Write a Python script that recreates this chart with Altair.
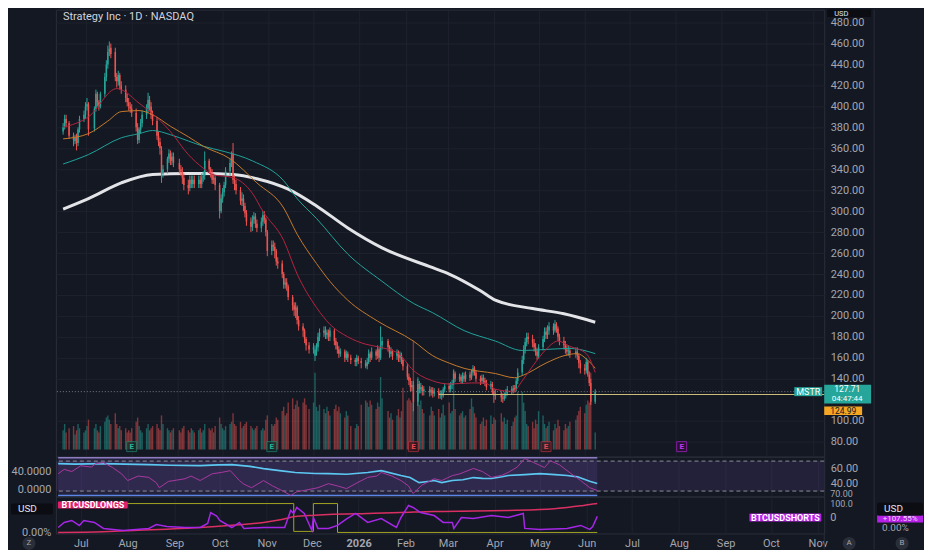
import altair as alt
import pandas as pd

BG = "#141823"
GRID = "#1e222d"
BORDER = "#2a2e39"
LABEL = "#a3a6af"
UP = "#26a69a"
DOWN = "#ef5350"
FONT = "Roboto"

W = 770
H_MAIN, H_RSI, H_LOW = 448, 40, 37

# ---------------- data ----------------
HOLIDAYS = ["2025-06-19", "2025-07-04", "2025-09-01", "2025-11-27", "2025-12-25",
            "2026-01-01", "2026-01-19", "2026-02-16", "2026-04-03", "2026-05-25"]
DATES = [d.strftime("%Y-%m-%d") for d in pd.bdate_range("2025-06-16", "2026-06-08")
         if d.strftime("%Y-%m-%d") not in HOLIDAYS]

OPEN = [376, 381, 388, 384, 372, 367, 371, 365, 378, 388,
        392, 400, 402, 379, 398, 412, 404, 400, 412, 428,
        440, 452, 456, 452, 428, 424, 430, 420, 416, 408,
        404, 400, 398, 394, 380, 368, 378, 384, 392, 398,
        406, 400, 392, 386, 372, 366, 358, 336, 340, 350,
        355, 348, 352, 346, 340, 338, 332, 325, 322, 330,
        326, 330, 326, 330, 326, 332, 334, 348, 340, 336,
        330, 332, 325, 300, 312, 318, 325, 338, 346, 355,
        330, 326, 320, 310, 312, 305, 298, 290, 285, 292,
        295, 288, 284, 290, 296, 292, 280, 262, 268, 266,
        262, 252, 250, 240, 230, 232, 228, 218, 210, 206,
        208, 196, 190, 186, 178, 172, 168, 162, 168, 170,
        180, 184, 186, 182, 184, 180, 186, 176, 172, 168,
        164, 166, 160, 164, 160, 158, 156, 160, 157, 155,
        152, 156, 164, 160, 166, 162, 168, 160, 172, 176,
        170, 164, 166, 162, 165, 160, 163, 158, 152, 142,
        138, 132, 134, 118, 135, 130, 132, 128, 130, 127,
        129, 126, 128, 125, 126, 124, 130, 133, 130, 134,
        136, 145, 140, 142, 138, 143, 140, 144, 141, 146,
        150, 146, 140, 138, 141, 138, 136, 132, 135, 128,
        124, 126, 122, 121, 124, 126, 130, 128, 131, 130,
        138, 146, 158, 168, 175, 180, 178, 174, 170, 166,
        162, 170, 178, 185, 182, 186, 190, 186, 192, 188,
        180, 176, 172, 168, 166, 167, 164, 166, 162, 155,
        150, 148, 156, 144, 136, 118]
HIGH = [384, 392, 392, 386, 375, 373, 374, 380, 391, 396,
        404, 408, 404, 400, 416, 414, 406, 414, 432, 444,
        458, 462, 460, 456, 432, 434, 432, 424, 420, 412,
        408, 404, 402, 398, 384, 380, 388, 396, 402, 413,
        410, 404, 396, 390, 376, 370, 362, 344, 352, 359,
        358, 356, 356, 350, 344, 342, 336, 330, 334, 334,
        334, 334, 334, 334, 336, 338, 357, 350, 342, 340,
        336, 334, 327, 316, 322, 328, 342, 350, 357, 365,
        334, 330, 323, 318, 316, 308, 301, 294, 296, 299,
        298, 292, 294, 300, 300, 294, 282, 272, 272, 270,
        264, 256, 253, 242, 236, 236, 230, 220, 213, 213,
        210, 200, 193, 188, 180, 175, 174, 172, 174, 184,
        188, 190, 190, 187, 187, 189, 188, 179, 175, 171,
        169, 168, 167, 166, 163, 160, 163, 162, 160, 158,
        160, 168, 166, 170, 168, 172, 170, 190, 180, 178,
        172, 170, 168, 168, 167, 166, 165, 160, 155, 145,
        141, 138, 138, 140, 138, 136, 134, 133, 133, 132,
        132, 131, 131, 129, 129, 132, 136, 136, 137, 139,
        149, 147, 145, 144, 146, 146, 147, 147, 149, 153,
        152, 148, 143, 144, 144, 141, 139, 138, 137, 131,
        130, 128, 126, 127, 130, 133, 133, 134, 134, 141,
        150, 162, 172, 179, 184, 184, 182, 178, 174, 169,
        173, 181, 189, 189, 191, 194, 193, 196, 194, 190,
        183, 180, 176, 172, 172, 170, 170, 170, 164, 158,
        154, 160, 158, 147, 140, 130]
LOW = [373, 378, 380, 369, 362, 364, 358, 362, 375, 385,
       388, 396, 372, 376, 395, 400, 396, 398, 409, 424,
       436, 448, 446, 424, 418, 420, 416, 412, 404, 400,
       396, 394, 390, 376, 364, 365, 374, 380, 388, 394,
       396, 388, 382, 368, 362, 354, 327, 332, 336, 346,
       344, 344, 342, 336, 334, 326, 320, 316, 319, 322,
       322, 322, 322, 322, 322, 328, 330, 336, 332, 326,
       326, 320, 293, 298, 308, 314, 322, 334, 342, 326,
       320, 316, 306, 305, 300, 294, 286, 280, 281, 288,
       284, 280, 280, 286, 288, 276, 257, 258, 262, 255,
       248, 245, 236, 226, 226, 224, 215, 205, 200, 198,
       192, 186, 180, 174, 167, 164, 164, 157, 162, 166,
       176, 180, 178, 178, 176, 176, 172, 168, 164, 160,
       161, 156, 158, 156, 154, 152, 152, 154, 150, 150,
       149, 154, 156, 158, 158, 159, 156, 158, 168, 166,
       160, 161, 158, 158, 156, 156, 154, 148, 139, 134,
       128, 128, 109, 114, 126, 126, 124, 124, 123, 124,
       122, 123, 121, 121, 120, 122, 127, 127, 127, 130,
       134, 137, 137, 135, 135, 137, 137, 138, 139, 143,
       143, 137, 134, 135, 135, 133, 129, 130, 125, 117,
       120, 118, 117, 119, 121, 124, 125, 126, 127, 128,
       135, 143, 154, 164, 171, 173, 170, 166, 162, 158,
       159, 167, 175, 178, 178, 182, 182, 184, 184, 176,
       172, 168, 164, 162, 162, 160, 160, 158, 150, 145,
       144, 145, 142, 133, 115, 116]
CLOSE = [380, 388, 384, 372, 368, 370, 365, 378, 388, 392,
         400, 402, 378, 398, 412, 404, 400, 412, 428, 440,
         452, 455, 450, 428, 424, 430, 420, 416, 408, 404,
         400, 398, 394, 380, 368, 378, 384, 392, 398, 406,
         400, 392, 386, 372, 366, 360, 336, 340, 350, 355,
         348, 352, 346, 340, 338, 332, 325, 322, 330, 326,
         330, 326, 330, 326, 332, 334, 348, 340, 336, 330,
         332, 325, 300, 312, 318, 325, 338, 346, 352, 330,
         326, 320, 310, 312, 305, 298, 290, 285, 292, 295,
         288, 284, 290, 296, 292, 280, 262, 268, 266, 262,
         252, 250, 240, 230, 232, 228, 218, 210, 206, 208,
         196, 190, 186, 178, 172, 168, 170, 168, 170, 180,
         184, 186, 182, 184, 180, 186, 176, 172, 168, 164,
         166, 160, 164, 160, 158, 156, 160, 157, 155, 152,
         156, 164, 160, 166, 162, 168, 160, 172, 176, 170,
         164, 166, 162, 165, 160, 163, 158, 152, 142, 138,
         132, 134, 118, 135, 130, 132, 128, 130, 127, 129,
         126, 128, 125, 126, 124, 130, 133, 130, 134, 136,
         145, 140, 142, 138, 143, 140, 144, 141, 146, 150,
         146, 140, 138, 141, 138, 136, 132, 135, 128, 124,
         126, 122, 121, 124, 126, 130, 128, 131, 130, 138,
         146, 158, 168, 175, 180, 178, 174, 170, 166, 162,
         170, 178, 185, 182, 186, 190, 186, 192, 188, 180,
         176, 172, 168, 166, 167, 164, 166, 162, 155, 150,
         148, 156, 144, 136, 118, 127.71]
VOLUME = [9, 12, 8, 10, 11, 7, 9, 12, 10, 8,
          9, 11, 14, 10, 12, 9, 8, 11, 13, 15,
          16, 14, 12, 17, 12, 10, 11, 9, 10, 8,
          9, 8, 10, 13, 15, 11, 9, 8, 10, 12,
          9, 10, 11, 12, 10, 9, 16, 12, 10, 9,
          8, 9, 10, 9, 8, 10, 11, 9, 8, 10,
          9, 8, 9, 10, 8, 9, 12, 10, 9, 10,
          8, 11, 15, 12, 10, 9, 11, 12, 13, 17,
          12, 11, 13, 10, 11, 12, 13, 11, 10, 9,
          10, 11, 9, 10, 9, 14, 16, 12, 11, 12,
          15, 14, 18, 20, 16, 17, 22, 24, 19, 21,
          23, 20, 22, 24, 21, 19, 22, 36, 20, 18,
          21, 19, 17, 20, 18, 16, 19, 21, 18, 20,
          17, 15, 18, 16, 11, 10, 12, 11, 21, 23,
          22, 20, 23, 21, 19, 22, 20, 34, 24, 18,
          15, 17, 14, 16, 19, 15, 18, 29, 23, 24,
          23, 22, 51, 34, 21, 23, 19, 17, 16, 20,
          18, 16, 19, 15, 17, 21, 16, 22, 17, 18,
          37, 19, 16, 17, 18, 15, 16, 19, 24, 20,
          17, 15, 12, 13, 15, 11, 14, 16, 12, 15,
          14, 17, 13, 15, 12, 14, 11, 13, 15, 16,
          27, 27, 22, 18, 12, 11, 13, 10, 14, 12,
          18, 16, 12, 10, 11, 13, 9, 12, 10, 14,
          11, 9, 12, 10, 11, 13, 14, 16, 18, 20,
          17, 21, 23, 22, 36, 8]

# moving averages read at sample bars (bar index, value)
MA200_I = [0, 12, 27, 42, 57, 65, 79, 91, 106, 118, 133, 148, 170, 177, 192, 200, 216, 231, 245]
MA200_V = [302, 312, 327, 335, 336, 336, 335, 331, 321, 305, 284, 265, 246, 240, 224, 215, 207, 202, 194]
MA100_I = [0, 12, 27, 35, 42, 50, 57, 65, 75, 88, 103, 110, 118, 133, 148, 162, 170, 185, 200, 211, 223, 235, 245]
MA100_V = [345, 354, 370, 374, 377, 373, 367, 362, 357, 348, 329, 312, 293, 259, 233, 212, 203, 186, 176, 167, 168, 169, 164]
MA50_I = [0, 12, 20, 27, 35, 42, 50, 57, 65, 77, 91, 103, 110, 118, 125, 133, 145, 162, 170, 177,
          185, 200, 208, 211, 223, 231, 237, 241, 245]
MA50_V = [369, 374, 386, 395, 396, 392, 381, 371, 362, 350, 327, 303, 278, 250, 233, 215, 195, 176, 162, 155,
          150, 145, 141, 143, 155, 162, 164, 159, 150]
MA20_I = [0, 12, 24, 27, 35, 42, 50, 57, 65, 69, 79, 88, 93, 103, 110, 118, 125, 133, 139, 147,
          154, 162, 170, 177, 188, 195, 200, 207, 211, 216, 223, 229, 235, 241, 245]
MA20_V = [380, 390, 417, 416, 403, 393, 376, 354, 341, 335, 332, 317, 300, 272, 240, 208, 192, 180, 173, 170,
          164, 148, 138, 135, 136, 136, 130, 128, 138, 152, 168, 176, 171, 164, 146]

# RSI-type panel
RSI_I = [0, 8, 20, 30, 42, 52, 65, 73, 80, 88, 95, 103, 110, 118, 125, 133, 141, 148, 156, 160,
         164, 168, 171, 174, 179, 184, 189, 193, 197, 201, 205, 212, 220, 226, 232, 236, 239, 242, 245]
RSI_V = [66.7, 66, 66.7, 66, 65.3, 64.5, 64, 65, 65.3, 63, 60, 57, 54.7, 53.5, 53.3, 52.5, 54.7, 57.3, 50.7, 48,
         41.3, 43, 44, 41.3, 44, 45, 48, 47, 46.7, 49, 50.7, 52, 53.3, 52, 50.7, 49, 46.7, 43, 40]
OSC_I = [0, 3, 6, 10, 14, 17, 20, 24, 28, 32, 37, 42, 45, 47, 51, 57, 61, 65, 71, 75,
         79, 83, 86, 89, 95, 99, 103, 107, 111, 114, 120, 125, 129, 133, 137, 141, 145, 148, 152, 156,
         159, 162, 166, 171, 174, 179, 182, 189, 193, 197, 201, 205, 209, 212, 216, 221, 225, 229, 232, 238,
         242, 245]
OSC_V = [35, 45, 40, 53, 50, 58, 60, 49, 35, 20, 30, 27, 15, 4, 18, 24, 30, 20, 35, 38,
         42, 20, 12, 4, 20, 8, -2, -13, -5, -2, 4, 13, 8, 2, 15, 27, 30, 38, 30, 20,
         8, -9, 10, 24, 20, 31, 35, 47, 40, 27, 32, 38, 50, 69, 60, 49, 64, 55, 42, 20,
         4, -2]

# BTC longs / shorts panel
LONG_I = [0, 20, 34, 50, 65, 80, 95, 103, 110, 118, 125, 141, 156, 171, 190, 205, 220, 232, 238, 242, 245]
LONG_V = [0, 5, 13, 22, 33, 48, 67, 87, 107, 115, 120, 127, 133, 140, 143, 147, 153, 167, 178, 187, 193]
SHORT_I = [0, 3, 6, 9, 12, 16, 20, 29, 42, 45, 50, 57, 65, 68, 70, 72, 74, 80, 83, 86,
           95, 105, 107, 109, 111, 114, 116, 117, 120, 125, 129, 133, 136, 141, 148, 153, 156, 159, 162, 165,
           171, 175, 179, 180, 183, 189, 197, 205, 211, 212, 220, 232, 238, 242, 244, 245]
SHORT_V = [33, 67, 80, 47, 80, 67, 27, 13, 27, 53, 40, 33, 33, 60, 133, 110, 80, 33, 67, 27,
           33, 33, 147, 127, 167, 127, 13, 100, 27, 27, 47, 90, 127, 67, 93, 33, 100, 180, 167, 133,
           113, 67, 67, 27, 100, 93, 113, 100, 127, 27, 20, 27, 47, 20, 40, 107]
STEP_I = [0, 109, 117, 129, 245]
STEP_V = [193, 7, 193, 0, 0]

EARN_DATES = ["2025-08-01", "2025-11-03", "2026-02-06", "2026-05-06", "2026-08-05"]
EARN_KIND = ["beat", "beat", "miss", "miss", "next"]

# price-axis tick labels (120.00 is hidden behind the price labels)
PRICE_TICKS = [80, 100, 140, 160, 180, 200, 220, 240, 260, 280, 300, 320, 340, 360, 380, 400, 420, 440, 460, 480]

LAST = 127.71
PREV = 124.99
LINE_START = "2026-02-23"

# ---------------- frames ----------------
n = min(len(DATES), len(OPEN), len(HIGH), len(LOW), len(CLOSE), len(VOLUME))
bars = pd.DataFrame({"date": DATES[:n], "open": OPEN[:n], "high": HIGH[:n], "low": LOW[:n],
                     "close": CLOSE[:n], "volume": VOLUME[:n]})


def series(idx, vals):
    return pd.DataFrame({"date": [DATES[min(i, n - 1)] for i in idx], "v": vals})


ONE = pd.DataFrame({"k": [0]})
span = pd.DataFrame({"a": [DATES[0]], "b": [DATES[n - 1]]})
earn = pd.DataFrame({"date": EARN_DATES, "kind": EARN_KIND})
line_start = pd.DataFrame({"a": [LINE_START]})

# ---------------- scales / axes ----------------
XS = alt.Scale(type="utc", domain=[alt.DateTime(year=2025, month=6, date=14, hours=12, utc=True),
                                   alt.DateTime(year=2026, month=11, date=5, hours=7, utc=True)])
MONTHS = {"interval": "month", "step": 1}
X_GRID = alt.Axis(labels=False, ticks=False, domain=False, grid=True, gridColor=GRID,
                  tickCount=MONTHS, title=None)
X_LAB = alt.Axis(labels=True, ticks=False, domain=False, grid=True, gridColor=GRID, tickCount=MONTHS,
                 title=None, labelColor=LABEL, labelFontSize=11, labelPadding=4,
                 labelOverlap=False, labelFlush=False, labelBound=False,
                 labelExpr="utcmonth(datum.value) == 0 ? utcFormat(datum.value, '%Y') : utcFormat(datum.value, '%b')",
                 labelFontWeight={"condition": {"test": "utcmonth(datum.value) == 0", "value": "bold"},
                                  "value": "normal"})
XM = alt.X("date:T", scale=XS, axis=X_GRID, title=None)
XL = alt.X("date:T", scale=XS, axis=X_LAB, title=None)

PS = alt.Scale(domain=[65.7, 492.4], nice=False, zero=False)
PAXIS = alt.Axis(orient="right", values=PRICE_TICKS, format=".2f", grid=True, gridColor=GRID,
                 domain=False, ticks=False, labelPadding=6, labelColor=LABEL, labelFontSize=11, title=None)


def py(field):
    return alt.Y(field, type="quantitative", scale=PS, axis=PAXIS, title=None)


def pdatum(v):
    return alt.Y(datum=v, type="quantitative", scale=PS, axis=PAXIS, title=None)


def txt(text, x, y, color="#d1d4dc", size=10, align="center", weight="normal", baseline="middle"):
    return alt.Chart(ONE).mark_text(text=text, color=color, fontSize=size, align=align, fontWeight=weight,
                                    baseline=baseline, font=FONT).encode(x=alt.value(x), y=alt.value(y))


def box(x1, x2, y1, y2, fill, stroke=None, radius=0):
    kw = dict(fill=fill, cornerRadius=radius)
    if stroke:
        kw["stroke"] = stroke
        kw["strokeWidth"] = 1
    return alt.Chart(ONE).mark_rect(**kw).encode(x=alt.value(x1), x2=alt.value(x2),
                                                 y=alt.value(y1), y2=alt.value(y2))


def vline(x, y1, y2, color=BORDER):
    return alt.Chart(ONE).mark_rule(color=color, strokeWidth=1).encode(
        x=alt.value(x), y=alt.value(y1), y2=alt.value(y2))


COND = alt.condition("datum.close >= datum.open", alt.value(UP), alt.value(DOWN))

# ---------------- main panel ----------------
vol = alt.Chart(bars).mark_bar(size=1.4, opacity=0.5).encode(
    x=XM, y=alt.Y("volume:Q", scale=alt.Scale(domain=[-3.3, 206], nice=False, zero=False), axis=None),
    color=COND)


def ma(idx, vals, color, width):
    return alt.Chart(series(idx, vals)).mark_line(color=color, strokeWidth=width, interpolate="monotone").encode(
        x=XM, y=py("v"))


wick = alt.Chart(bars).mark_rule(strokeWidth=1).encode(x=XM, y=py("low"), y2="high:Q", color=COND)
body = alt.Chart(bars).mark_bar(size=1.5).encode(x=XM, y=py("open"), y2="close:Q", color=COND)

last_line = alt.Chart(ONE).mark_rule(color="#787b86", strokeDash=[1, 2], strokeWidth=1).encode(y=pdatum(LAST))
prev_line = alt.Chart(line_start).mark_rule(color="#cbbd7a", strokeWidth=1).encode(
    x=alt.X("a:T", scale=XS, axis=X_GRID), x2=alt.value(W), y=pdatum(PREV))


def pbox(price, x1, x2, o1, o2, fill):
    return alt.Chart(ONE).mark_rect(fill=fill, yOffset=o1, y2Offset=o2).encode(
        x=alt.value(x1), x2=alt.value(x2), y=pdatum(price), y2=alt.Y2(datum=price))


def ptxt(price, text, x, off, color="#ffffff", size=10, align="center"):
    return alt.Chart(ONE).mark_text(text=text, color=color, fontSize=size, align=align, yOffset=off,
                                    baseline="middle", font=FONT).encode(x=alt.value(x), y=pdatum(price))


earn_sq = alt.Chart(earn).mark_square(size=100, filled=True, strokeWidth=1).encode(
    x=alt.X("date:T", scale=XS, axis=X_GRID), y=alt.value(438),
    fill=alt.Fill("kind:N", scale=alt.Scale(domain=["beat", "miss", "next"],
                                            range=["#0f2e2a", "#3a161c", "#2b1138"]), legend=None),
    stroke=alt.Stroke("kind:N", scale=alt.Scale(domain=["beat", "miss", "next"],
                                                range=["#1f8a74", "#c2323e", "#b71fd6"]), legend=None))
earn_tx = alt.Chart(earn).mark_text(text="E", fontSize=8, fontWeight="bold", font=FONT, baseline="middle").encode(
    x=alt.X("date:T", scale=XS, axis=X_GRID), y=alt.value(438.5),
    color=alt.Color("kind:N", scale=alt.Scale(domain=["beat", "miss", "next"],
                                              range=["#26b59a", "#f04452", "#cc33ee"]), legend=None))

bounds = alt.Chart(ONE).mark_rule(opacity=0).encode(x=alt.value(-47), x2=alt.value(869), y=alt.value(2))

price_layers = [
    bounds,
    ma(MA200_I, MA200_V, "#e3e4e8", 3),
    wick, body,
    ma(MA100_I, MA100_V, "#1fa39a", 1),
    ma(MA50_I, MA50_V, "#c47a2c", 1),
    ma(MA20_I, MA20_V, "#b3243f", 1),
    last_line, prev_line,
    pbox(LAST, 740, 768, -4.5, 4.5, UP), ptxt(LAST, "MSTR", 754, 0, size=9),
    pbox(LAST, 770, 817, -7, 12, UP), ptxt(LAST, "127.71", 793, -2.5, size=8.5),
    ptxt(LAST, "04:47:44", 793, 7.5, size=8),
    pbox(PREV, 770, 808, 12, 20.5, "#f5a623"), ptxt(PREV, "124.99", 789, 16.3, color="#131722", size=8.5),
    earn_sq, earn_tx,
    txt("Strategy Inc · 1D · NASDAQ", 7, 1, color="#d1d4dc", size=11, align="left", baseline="top"),
    box(773, 817, 0, 7.5, "#0b0d13"), txt("USD", 780, 0, color="#e0e3eb", size=7.5, align="left",
                                          baseline="top"),
    vline(820, 0, H_MAIN),
]

main = alt.layer(vol, alt.layer(*price_layers)).resolve_scale(y="independent").properties(
    width=W, height=H_MAIN)

# ---------------- RSI panel ----------------
RS = alt.Scale(domain=[22.7, 76], nice=False, zero=False)
RAX = alt.Axis(orient="right", values=[40, 60], format=".2f", grid=False, domain=False, ticks=False,
               labelPadding=6, labelColor=LABEL, labelFontSize=11, title=None)


def rd(v):
    return alt.Y(datum=v, type="quantitative", scale=RS, axis=RAX, title=None)


zone = alt.Chart(span).mark_rect(fill="#7e57c2", opacity=0.16).encode(
    x=alt.X("a:T", scale=XS, axis=X_GRID), x2="b:T", y=rd(74.5), y2=alt.Y2(datum=24))
band = alt.Chart(ONE).mark_rect(fill="#7e57c2", opacity=0.14).encode(
    x=alt.value(0), x2=alt.value(W), y=rd(70), y2=alt.Y2(datum=30))
d70 = alt.Chart(ONE).mark_rule(color="#8c8f99", strokeDash=[4, 3], strokeWidth=1).encode(y=rd(70))
d30 = alt.Chart(ONE).mark_rule(color="#8c8f99", strokeDash=[4, 3], strokeWidth=1).encode(y=rd(30))
top_l = alt.Chart(span).mark_rule(color="#8e7cc3", strokeWidth=1.5).encode(
    x=alt.X("a:T", scale=XS, axis=X_GRID), x2="b:T", y=rd(74.5))
bot_l = alt.Chart(span).mark_rule(color="#5b86e5", strokeWidth=1.5).encode(
    x=alt.X("a:T", scale=XS, axis=X_GRID), x2="b:T", y=rd(24))
rsi_line = alt.Chart(series(RSI_I, RSI_V)).mark_line(color="#5cc8f2", strokeWidth=1.6).encode(
    x=XM, y=alt.Y("v:Q", scale=RS, axis=RAX, title=None))

OS = alt.Scale(domain=[-15.6, 73.3], nice=False, zero=False)
OAX = alt.Axis(orient="left", values=[0, 40], format=".4f", grid=False, domain=False, ticks=False,
               labelPadding=5, labelColor=LABEL, labelFontSize=11, title=None)
osc_line = alt.Chart(series(OSC_I, OSC_V)).mark_line(color="#a8389f", strokeWidth=1).encode(
    x=XM, y=alt.Y("v:Q", scale=OS, axis=OAX, title=None))

rsi = alt.layer(alt.layer(zone, band, d70, d30, top_l, bot_l, rsi_line, vline(820, 0, H_RSI)),
                osc_line).resolve_scale(y="independent").properties(width=W, height=H_RSI)

# ---------------- BTC longs / shorts panel ----------------
LS = alt.Scale(domain=[-6.7, 240], nice=False, zero=False)
LAX = alt.Axis(orient="left", values=[0], labelExpr="'0.00%'", grid=False, domain=False, ticks=False,
               labelPadding=5, labelColor=LABEL, labelFontSize=11, title=None)


def ly(field):
    return alt.Y(field, type="quantitative", scale=LS, axis=LAX, title=None)


step_line = alt.Chart(series(STEP_I, STEP_V)).mark_line(color="#a3a322", strokeWidth=1,
                                                        interpolate="step-after").encode(x=XL, y=ly("v"))
long_line = alt.Chart(series(LONG_I, LONG_V)).mark_line(color="#d92f62", strokeWidth=1.5,
                                                        interpolate="monotone").encode(x=XL, y=ly("v"))
short_line = alt.Chart(series(SHORT_I, SHORT_V)).mark_line(color="#a526e6", strokeWidth=1.5).encode(
    x=XL, y=ly("v"))

low_layers = [
    step_line, long_line, short_line,
    box(2, 72, 5, 12, "#e0206a", radius=1), txt("BTCUSDLONGS", 37, 8.7, color="#ffffff", size=9, weight="bold"),
    box(695, 767, 17, 25, "#b520e6", radius=1), txt("BTCUSDSHORTS", 731, 21.2, color="#ffffff", size=9,
                                                     weight="bold"),
    txt("70.00", 776, -2.5, color=LABEL, size=9, align="left"),
    txt("100.0", 776, 7, color=LABEL, size=9, align="left"),
    txt("0", 776, 22, color=LABEL, size=11, align="left"),
    box(-45, -3, 7, 18, "#0b0d13", radius=2), txt("USD", -38, 12.5, color="#e0e3eb", size=10, align="left"),
    box(823, 869, 19, 26, "#b520e6"), txt("+107.55%", 846, 22.8, color="#f2d7fa", size=8),
    box(823, 869, 6, 19, "#0b0d13", radius=2), txt("USD", 830, 12.5, color="#e0e3eb", size=10, align="left"),
    txt("0.00%", 828, 32, color=LABEL, size=10, align="left"),
    vline(820, 0, 53), vline(770, 37, 53),
    alt.Chart(ONE).mark_circle(size=170, color="#2a2e39", opacity=1).encode(x=alt.value(-27), y=alt.value(47)),
    txt("Z", -27, 47, color=LABEL, size=8),
    alt.Chart(ONE).mark_circle(size=170, color="#2a2e39", opacity=1).encode(x=alt.value(795), y=alt.value(47)),
    txt("A", 795, 47, color=LABEL, size=8),
    alt.Chart(ONE).mark_circle(size=170, color="#2a2e39", opacity=1).encode(x=alt.value(848), y=alt.value(47)),
    txt("B", 848, 47, color=LABEL, size=8),
]
low = alt.layer(*low_layers).properties(width=W, height=H_LOW)

chart = alt.vconcat(main, rsi, low, spacing=0, bounds="flush").properties(
    background=BG, padding=0
).configure_view(stroke=BORDER, strokeWidth=1).configure_axis(
    labelFont=FONT, labelColor=LABEL, labelFontSize=11
).configure_text(font=FONT)

chart.save("out.html", embed_options={"renderer": "svg", "actions": False})
